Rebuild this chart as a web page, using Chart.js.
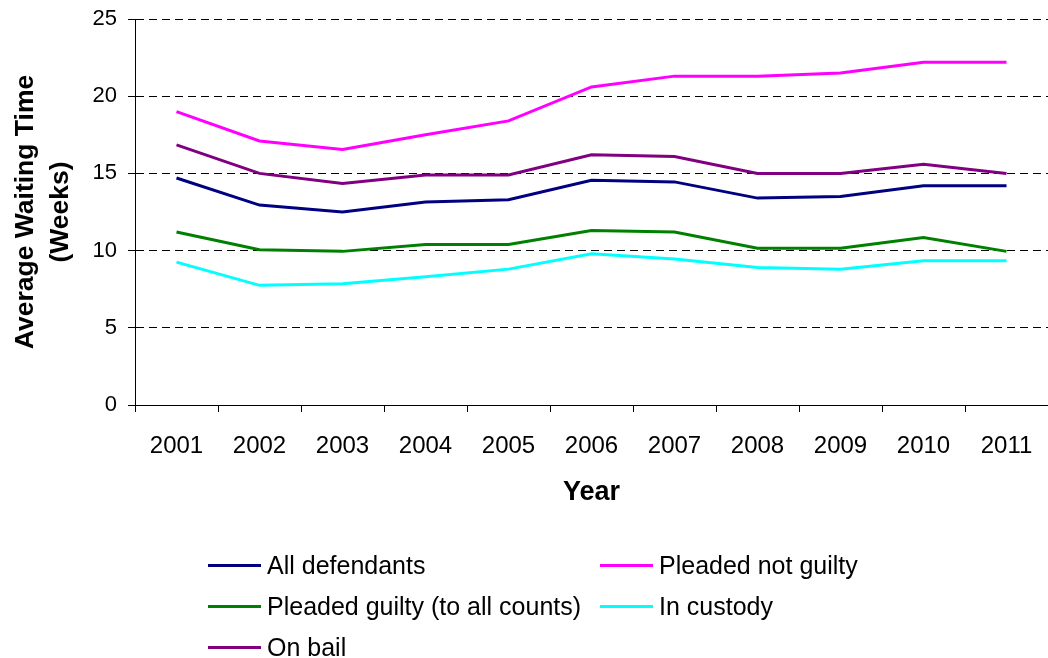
<!DOCTYPE html>
<html>
<head>
<meta charset="utf-8">
<script src="https://cdn.jsdelivr.net/npm/chart.js@4/dist/chart.umd.min.js"></script>
<style>
    html, body { margin: 0; padding: 0; background: #fff; }
    body { width: 1048px; height: 658px; position: relative; overflow: hidden; font-family: "Liberation Sans", Arial, sans-serif; }
    #wrap { position: absolute; left: 0; top: 0; width: 1048px; height: 530px; }
    #legend { position: absolute; left: 0; top: 0; width: 1048px; height: 658px; pointer-events: none; }
    .leg-item { position: absolute; height: 30px; display: flex; align-items: center; font-size: 25px; color: #000; white-space: nowrap; }
    .leg-line { width: 53px; height: 3px; margin-right: 6px; }
</style>
</head>
<body>
<div id="wrap"><canvas id="waitChart"></canvas></div>
<div id="legend"></div>
<script>
document.addEventListener('DOMContentLoaded', () => {

    // --- Data ---
    const years = ['2001', '2002', '2003', '2004', '2005', '2006', '2007', '2008', '2009', '2010', '2011'];

    const allDefendants   = [14.7, 12.95, 12.5, 13.15, 13.3, 14.55, 14.45, 13.4, 13.5, 14.2, 14.2];
    const notGuilty       = [19.0, 17.1, 16.55, 17.5, 18.4, 20.6, 21.3, 21.3, 21.5, 22.2, 22.2];
    const guiltyAllCounts = [11.2, 10.05, 9.95, 10.4, 10.4, 11.3, 11.2, 10.15, 10.15, 10.85, 9.95];
    const inCustody       = [9.25, 7.75, 7.85, 8.3, 8.8, 9.8, 9.45, 8.9, 8.8, 9.35, 9.35];
    const onBail          = [16.85, 15.0, 14.35, 14.9, 14.9, 16.2, 16.1, 15.0, 15.0, 15.6, 15.0];

    const yTicks = [0, 5, 10, 15, 20, 25];

    // legend grid: [column, row] for each series
    const seriesInfo = [
        { label: 'All defendants', data: allDefendants, color: '#000080', slot: [0, 0] },
        { label: 'Pleaded not guilty', data: notGuilty, color: '#FF00FF', slot: [1, 0] },
        { label: 'Pleaded guilty (to all counts)', data: guiltyAllCounts, color: '#008000', slot: [0, 1] },
        { label: 'In custody', data: inCustody, color: '#00FFFF', slot: [1, 1] },
        { label: 'On bail', data: onBail, color: '#800080', slot: [0, 2] }
    ];

    const fontFamily = '"Liberation Sans", Arial, sans-serif';

    const ctx = document.getElementById('waitChart');

    const chart = new Chart(ctx, {
        type: 'line',
        data: {
            labels: years,
            datasets: seriesInfo.map(s => ({
                label: s.label,
                data: s.data,
                borderColor: s.color,
                backgroundColor: s.color,
                borderWidth: 3,
                pointRadius: 0,
                fill: false,
                tension: 0
            }))
        },
        options: {
            responsive: true,
            maintainAspectRatio: false,
            animation: false,
            layout: { padding: { left: 0, right: 0, top: 19, bottom: 0 } },
            plugins: {
                legend: { display: false },
                tooltip: { enabled: false }
            },
            scales: {
                x: {
                    type: 'category',
                    offset: true,
                    grid: {
                        offset: true,
                        drawOnChartArea: false,
                        drawTicks: true,
                        tickLength: 7,
                        tickColor: '#000',
                        color: '#000'
                    },
                    border: { display: true, color: '#000', width: 1 },
                    ticks: {
                        color: '#000',
                        font: { family: fontFamily, size: 24 },
                        padding: 20,
                        maxRotation: 0,
                        autoSkip: false
                    },
                    title: {
                        display: true,
                        text: 'Year',
                        color: '#000',
                        font: { family: fontFamily, size: 27, weight: 'bold' },
                        padding: { top: 0, bottom: 21 }
                    },
                    afterFit: scale => {
                        scale.height = 125;
                        // labels sit inside their category slots, no side padding needed
                        scale.paddingLeft = 0;
                        scale.paddingRight = 0;
                    }
                },
                y: {
                    min: 0,
                    max: 25,
                    afterBuildTicks: scale => {
                        scale.ticks = yTicks.map(v => ({ value: v }));
                    },
                    grid: {
                        color: c => (c.tick && c.tick.value === 0) ? 'rgba(0,0,0,0)' : '#000',
                        lineWidth: 1,
                        tickLength: 7,
                        tickColor: '#000',
                        tickBorderDash: []
                    },
                    border: { display: true, color: '#000', width: 1, dash: [8, 5] },
                    ticks: {
                        color: '#000',
                        font: { family: fontFamily, size: 22 },
                        padding: 11
                    },
                    title: {
                        display: true,
                        text: ['Average Waiting Time', '(Weeks)'],
                        color: '#000',
                        font: { family: fontFamily, size: 26.5, weight: 'bold', lineHeight: 1.32 },
                        padding: { top: 8, bottom: 0 }
                    },
                    afterFit: scale => {
                        scale.width = 135;
                        scale.paddingTop = 0;
                        scale.paddingBottom = 0;
                    }
                }
            }
        }
    });

    // --- HTML legend built from the chart's datasets ---
    const legend = document.getElementById('legend');
    const colX = [208, 600];
    const rowY = [565, 606, 647];
    chart.data.datasets.forEach((ds, i) => {
        const [c, r] = seriesInfo[i].slot;
        const item = document.createElement('div');
        item.className = 'leg-item';
        item.style.left = colX[c] + 'px';
        item.style.top = (rowY[r] - 15) + 'px';
        const line = document.createElement('span');
        line.className = 'leg-line';
        line.style.background = ds.borderColor;
        const txt = document.createElement('span');
        txt.textContent = ds.label;
        item.appendChild(line);
        item.appendChild(txt);
        legend.appendChild(item);
    });
});
</script>
</body>
</html>
